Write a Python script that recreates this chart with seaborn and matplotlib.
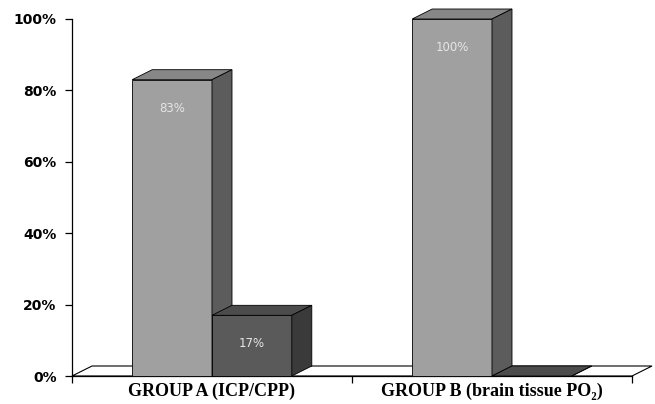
import matplotlib
matplotlib.use("Agg")
import matplotlib.pyplot as plt
import seaborn as sns
import pandas as pd
from matplotlib.patches import Polygon

# data
groups = ["GROUP A (ICP/CPP)", "GROUP B (brain tissue PO\u2082)"]
outcomes = ["favourable", "unfavourable"]
values_a = [83, 17]
values_b = [100, 0]
yticks = [0, 20, 40, 60, 80, 100]

df = pd.DataFrame({
    "group": [groups[0]] * 2 + [groups[1]] * 2,
    "outcome": outcomes * 2,
    "value": values_a + values_b,
})

front = {"favourable": "#a0a0a0", "unfavourable": "#5a5a5a"}
top = {"favourable": "#878787", "unfavourable": "#4c4c4c"}
side = {"favourable": "#5c5c5c", "unfavourable": "#3a3a3a"}

sns.set_style("white")
fig = plt.figure(figsize=(6.55, 4.04), dpi=100)
ax = fig.add_axes([72 / 655, 1 - 376 / 404, 560 / 655, 357 / 404])

sns.barplot(data=df, x="group", y="value", hue="outcome", hue_order=outcomes,
            palette=front, width=0.57, gap=0, edgecolor="black", linewidth=0.6,
            legend=False, ax=ax, zorder=3)

ax.set_xlim(-0.5, 1.5)
ax.set_ylim(0, 100)

# depth of the pseudo-3D effect, in pixels -> data units
inv = ax.transData.inverted()
p0 = ax.transData.transform((0, 0))
p1 = inv.transform((p0[0] + 20, p0[1] + 10))
dx, dy = p1[0], p1[1]

# floor
floor = Polygon([(-0.5, 0), (1.5, 0), (1.5 + dx, dy), (-0.5 + dx, dy)],
                closed=True, facecolor="white", edgecolor="black",
                linewidth=0.8, zorder=1, clip_on=False)
ax.add_patch(floor)

# tops and sides of the bars, labels inside
bars = list(ax.patches)[:4]
keys = [o for o in outcomes for _ in groups]
for bar, key in zip(bars, keys):
    x0 = bar.get_x()
    w = bar.get_width()
    h = bar.get_height()
    bar.set_clip_on(False)
    z = 3 if key == "favourable" else 5
    bar.set_zorder(z)
    tp = Polygon([(x0, h), (x0 + w, h), (x0 + w + dx, h + dy), (x0 + dx, h + dy)],
                 closed=True, facecolor=top[key], edgecolor="black",
                 linewidth=0.6, zorder=z, clip_on=False)
    sd = Polygon([(x0 + w, 0), (x0 + w + dx, dy), (x0 + w + dx, h + dy), (x0 + w, h)],
                 closed=True, facecolor=side[key], edgecolor="black",
                 linewidth=0.6, zorder=z, clip_on=False)
    ax.add_patch(tp)
    ax.add_patch(sd)
    if h > 0:
        ax.text(x0 + w / 2, h - 8, f"{h:.0f}%", ha="center", va="center",
                color="#e6e6e6", fontsize=8.5, zorder=6)

# axes styling
for s in ["top", "right"]:
    ax.spines[s].set_visible(False)
ax.spines["left"].set_linewidth(0.9)
ax.spines["left"].set_color("black")
ax.spines["bottom"].set_linewidth(0.9)
ax.spines["bottom"].set_color("black")
ax.set_yticks(yticks)
ax.set_yticklabels([f"{t}%" for t in yticks], fontsize=10, fontweight="bold",
                   color="black")
ax.tick_params(axis="y", direction="out", length=5, width=0.9, left=True, pad=6,
               color="black")
ax.set_xticks([-0.5, 0.5, 1.5], minor=True)
ax.tick_params(axis="x", which="minor", direction="out", length=5, width=0.9,
               bottom=True, color="black")
ax.tick_params(axis="x", which="major", length=0, pad=5)
ax.set_xticks([0, 1])
ax.set_xticklabels(groups, fontsize=13, fontweight="bold", color="black",
                   family=["Liberation Serif", "DejaVu Serif"])
ax.set_xlabel("")
ax.set_ylabel("")

fig.savefig("out.png", dpi=100)
